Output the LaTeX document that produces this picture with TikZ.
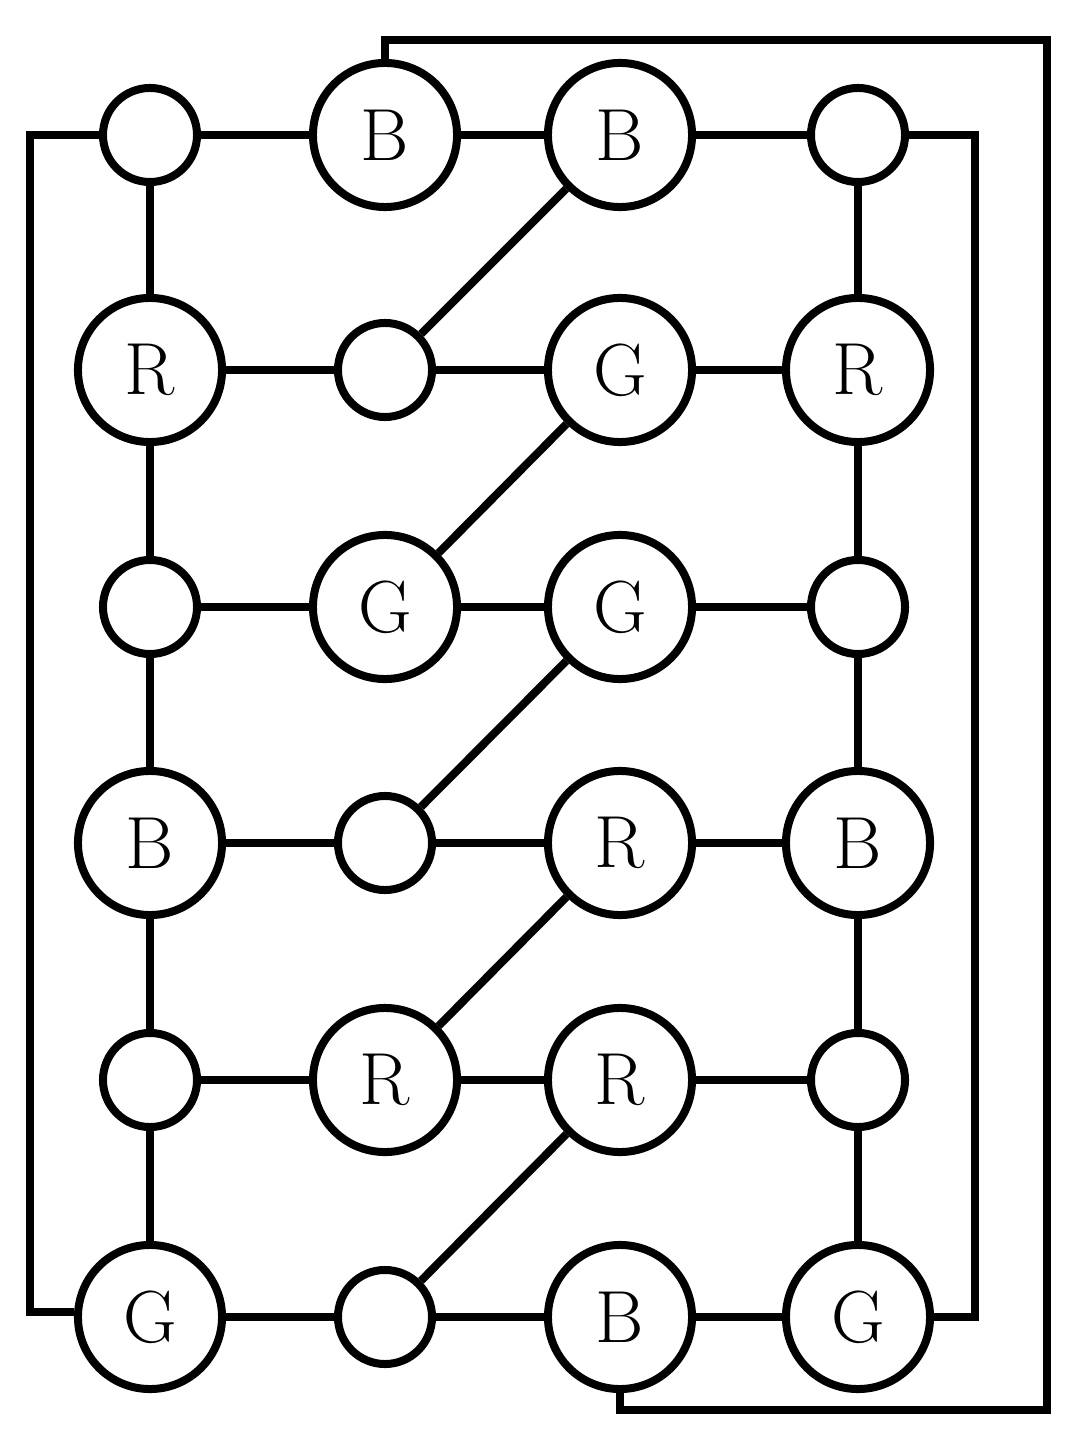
\documentclass[tikz,border=0pt]{standalone}
\begin{document}
\begin{tikzpicture}[x=0.01cm,y=-0.01cm,line width=0.08cm,
 big/.style={circle,draw,minimum size=1.44cm,inner sep=0pt,font=\fontsize{21}{21}\selectfont},
 sm/.style={circle,draw,minimum size=0.94cm,inner sep=0pt}]
\useasboundingbox (0,0) rectangle (1070,1440);
\def\xa{150}\def\xb{385}\def\xc{620}\def\xd{858}
\node[sm]  (a0) at (\xa,135) {};
\node[big] (b0) at (\xb,135) {B};
\node[big] (c0) at (\xc,135) {B};
\node[sm]  (d0) at (\xd,135) {};
\node[big] (a1) at (\xa,370) {R};
\node[sm]  (b1) at (\xb,370) {};
\node[big] (c1) at (\xc,370) {G};
\node[big] (d1) at (\xd,370) {R};
\node[sm]  (a2) at (\xa,607) {};
\node[big] (b2) at (\xb,607) {G};
\node[big] (c2) at (\xc,607) {G};
\node[sm]  (d2) at (\xd,607) {};
\node[big] (a3) at (\xa,843) {B};
\node[sm]  (b3) at (\xb,843) {};
\node[big] (c3) at (\xc,843) {R};
\node[big] (d3) at (\xd,843) {B};
\node[sm]  (a4) at (\xa,1080) {};
\node[big] (b4) at (\xb,1080) {R};
\node[big] (c4) at (\xc,1080) {R};
\node[sm]  (d4) at (\xd,1080) {};
\node[big] (a5) at (\xa,1317) {G};
\node[sm]  (b5) at (\xb,1317) {};
\node[big] (c5) at (\xc,1317) {B};
\node[big] (d5) at (\xd,1317) {G};
\foreach \r in {0,...,5}{\draw (a\r)--(b\r)--(c\r)--(d\r);}
\foreach \r/\s in {0/1,1/2,2/3,3/4,4/5}{\draw (a\r)--(a\s); \draw (d\r)--(d\s); \draw (c\r)--(b\s);}
\coordinate (l1) at (30,135); \coordinate (l2) at (30,1312);
\draw (a0.west)--(l1)--(l2)--(a5.west|-l2);
\coordinate (r1) at (975,135); \coordinate (r2) at (975,1317);
\draw (d0.east)--(r1)--(r2)--(d5.east);
\coordinate (o1) at (\xb,40); \coordinate (o2) at (1047,40); \coordinate (o3) at (1047,1410); \coordinate (o4) at (\xc,1410);
\draw (b0.north)--(o1)--(o2)--(o3)--(o4)--(c5.south);
\end{tikzpicture}
\end{document}
